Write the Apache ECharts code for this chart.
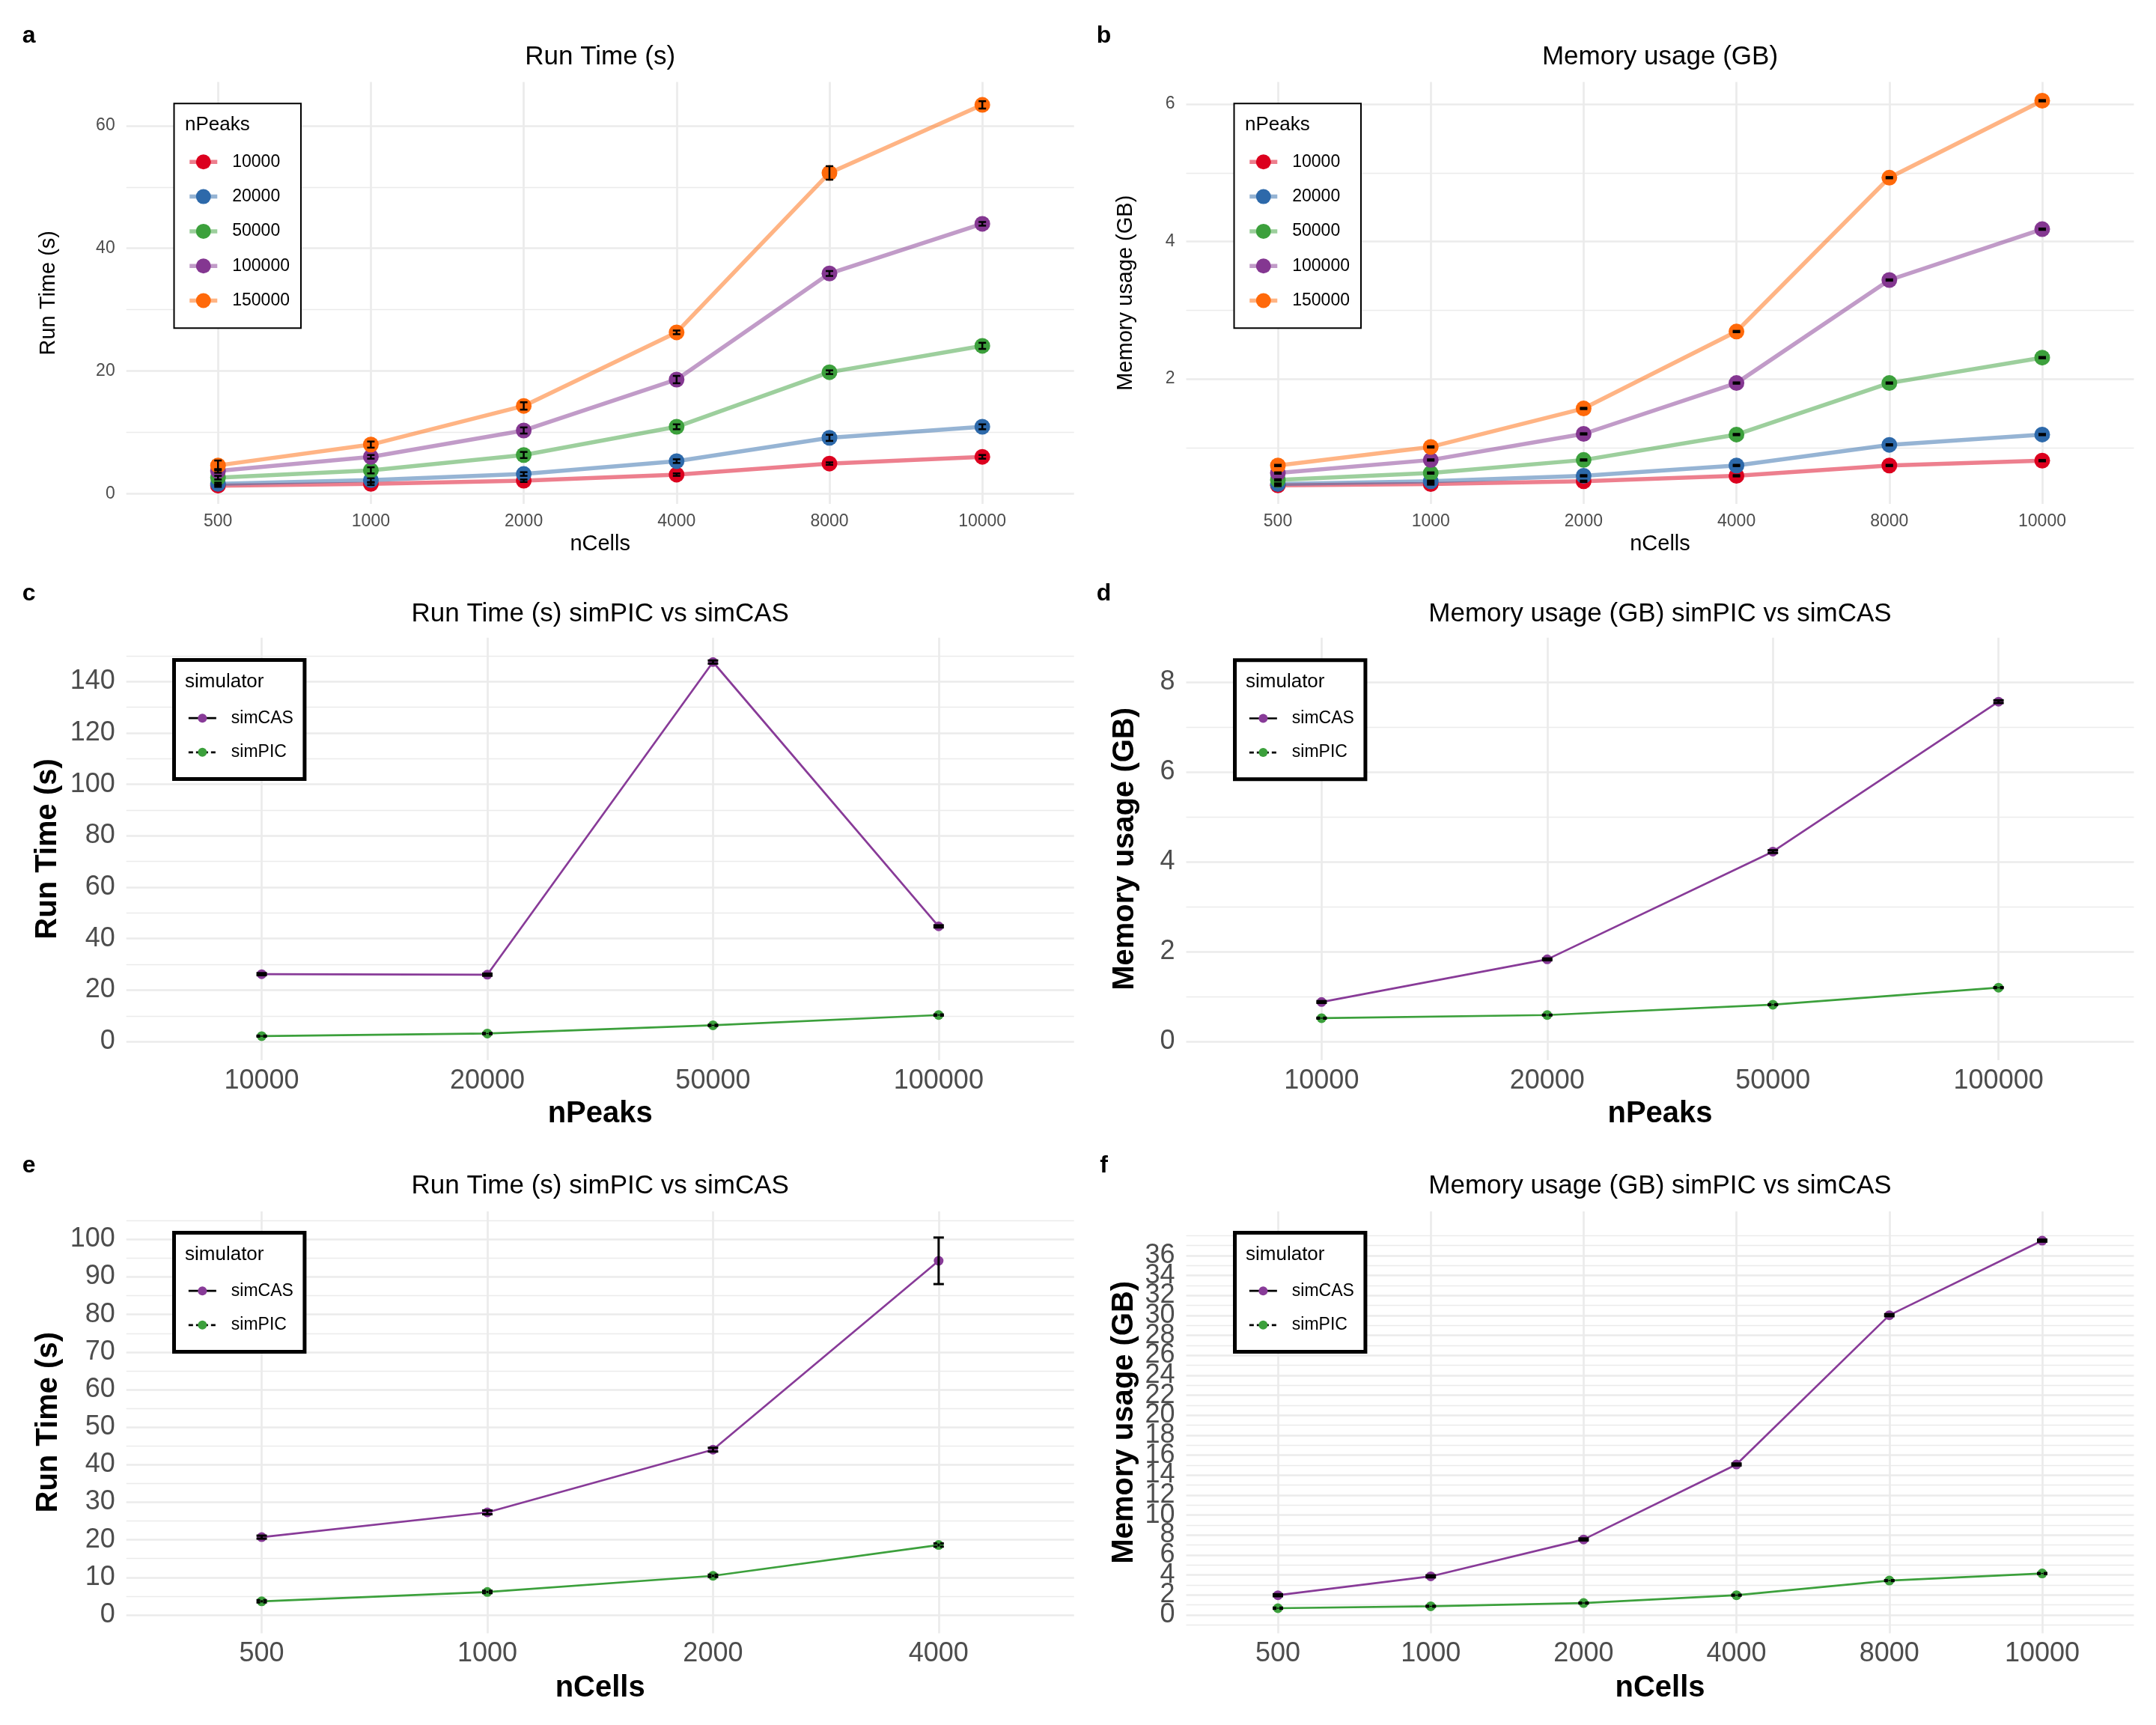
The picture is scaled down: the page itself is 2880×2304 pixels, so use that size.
<!DOCTYPE html>
<html>
<head>
<meta charset="utf-8">
<script src="https://cdn.jsdelivr.net/npm/echarts@6/dist/echarts.min.js"></script>
<style>html,body{margin:0;padding:0;background:#fff}#chart{width:2880px;height:2304px}</style>
</head>
<body>
<div id="chart"></div>
<script>
// ---------------- DATA ----------------
const nCellsA = ['500', '1000', '2000', '4000', '8000', '10000'];
const nCellsE = ['500', '1000', '2000', '4000'];
const nPeaksC = ['10000', '20000', '50000', '100000'];
const nPeaksLevels = ['10000', '20000', '50000', '100000', '150000'];
const simulators = ['simCAS', 'simPIC'];

// panel a: run time (s) by nCells, one series per nPeaks
const runP10k  = [1.3, 1.6, 2.1, 3.1, 4.9, 6.0];
const runP20k  = [1.6, 2.2, 3.2, 5.3, 9.1, 10.9];
const runP50k  = [2.6, 3.8, 6.3, 10.9, 19.8, 24.1];
const runP100k = [3.7, 6.0, 10.3, 18.6, 35.9, 44.0];
const runP150k = [4.6, 8.0, 14.3, 26.3, 52.3, 63.4];
const runP10kSd  = [0.2, 0.2, 0.2, 0.2, 0.2, 0.3];
const runP20kSd  = [0.2, 0.3, 0.3, 0.3, 0.5, 0.4];
const runP50kSd  = [0.3, 0.5, 0.5, 0.4, 0.3, 0.5];
const runP100kSd = [0.3, 0.3, 0.5, 0.6, 0.4, 0.3];
const runP150kSd = [0.8, 0.5, 0.6, 0.3, 1.1, 0.6];

// panel b: memory (GB) by nCells, one series per nPeaks
const memP10k  = [0.45, 0.47, 0.51, 0.59, 0.74, 0.81];
const memP20k  = [0.47, 0.51, 0.59, 0.74, 1.04, 1.19];
const memP50k  = [0.53, 0.63, 0.82, 1.19, 1.94, 2.31];
const memP100k = [0.63, 0.82, 1.20, 1.94, 3.44, 4.18];
const memP150k = [0.74, 1.01, 1.57, 2.69, 4.93, 6.05];
const memSdTiny = [0.01, 0.01, 0.01, 0.01, 0.01, 0.01];

// panel c: run time by nPeaks
const runCasPeaks = [26.2, 26.0, 147.6, 44.8];
const runPicPeaks = [2.1, 3.1, 6.3, 10.3];
const runCasPeaksSd = [0.4, 0.4, 0.6, 0.4];
const runPicPeaksSd = [0.2, 0.2, 0.2, 0.2];

// panel d: memory by nPeaks
const memCasPeaks = [0.88, 1.83, 4.23, 7.57];
const memPicPeaks = [0.52, 0.59, 0.82, 1.20];
const memCasPeaksSd = [0.02, 0.02, 0.03, 0.03];
const memPicPeaksSd = [0.01, 0.01, 0.01, 0.01];

// panel e: run time by nCells
const runCasCells = [20.7, 27.3, 44.0, 94.3];
const runPicCells = [3.6, 6.1, 10.4, 18.6];
const runCasCellsSd = [0.4, 0.5, 0.5, 6.2];
const runPicCellsSd = [0.3, 0.3, 0.3, 0.4];

// panel f: memory by nCells
const memCasCells = [1.97, 3.86, 7.56, 15.07, 30.03, 37.5];
const memPicCells = [0.67, 0.86, 1.19, 1.97, 3.44, 4.15];
const memCasCellsSd = [0.1, 0.1, 0.1, 0.1, 0.1, 0.1];
const memPicCellsSd = [0.05, 0.05, 0.05, 0.05, 0.05, 0.05];

// tick values
const ticksA = [0, 20, 40, 60];          const minorA = [10, 30, 50];
const ticksB = [2, 4, 6];                const minorB = [1, 3, 5];
const ticksC = [0, 20, 40, 60, 80, 100, 120, 140]; const minorC = [10, 30, 50, 70, 90, 110, 130, 150];
const ticksD = [0, 2, 4, 6, 8];          const minorD = [1, 3, 5, 7];
const ticksE = [0, 10, 20, 30, 40, 50, 60, 70, 80, 90, 100];
const minorE = [5, 15, 25, 35, 45, 55, 65, 75, 85, 95, 105];
const ticksF = [0, 2, 4, 6, 8, 10, 12, 14, 16, 18, 20, 22, 24, 26, 28, 30, 32, 34, 36];
const minorF = [-1, 1, 3, 5, 7, 9, 11, 13, 15, 17, 19, 21, 23, 25, 27, 29, 31, 33, 35, 37, 38];

// ---------------- STYLE ----------------
const FONT = "'Liberation Sans', Arial, Helvetica, sans-serif";
const levelColors = ['#DC001E', '#2D69AA', '#3CA03C', '#843791', '#FF690A'];
const simColors = ['#883B98', '#3CA03C'];
const GRID_COL = '#EBEBEB';
const TICK_COL = '#4D4D4D';

function rgba(hex, a) {
  const n = parseInt(hex.slice(1), 16);
  return 'rgba(' + ((n >> 16) & 255) + ',' + ((n >> 8) & 255) + ',' + (n & 255) + ',' + a + ')';
}
function pts(vals) { return vals.map((v, k) => [k + 1, v]); }
function errs(vals, sds) { return vals.map((v, k) => [k + 1, v - sds[k], v + sds[k]]); }

const COL_L = 168.7, COL_R = 1584.5, PW = 1266;
const ROW_T = [109.5, 851.8, 1618], PH = [563.5, 564.2, 563.5];

const panels = [
  { cats: nCellsA, ymin: -1.67, ymax: 67.13, majors: ticksA, minors: minorA, xName: 'nCells', yName: 'Run Time (s)',
    col: 0, row: 0, big: false, yGap: 89.3, xGap: 39.6, title: 'Run Time (s)', letter: 'a' },
  { cats: nCellsA, ymin: 0.181, ymax: 6.323, majors: ticksB, minors: minorB, xName: 'nCells', yName: 'Memory usage (GB)',
    col: 1, row: 0, big: false, yGap: 66.5, xGap: 39.6, title: 'Memory usage (GB)', letter: 'b' },
  { cats: nPeaksC, ymin: -7.25, ymax: 157.05, majors: ticksC, minors: minorC, xName: 'nPeaks', yName: 'Run Time (s)',
    col: 0, row: 1, big: true, yGap: 84.3, xGap: 52, title: 'Run Time (s) simPIC vs simCAS', letter: 'c' },
  { cats: nPeaksC, ymin: -0.415, ymax: 8.993, majors: ticksD, minors: minorD, xName: 'nPeaks', yName: 'Memory usage (GB)',
    col: 1, row: 1, big: true, yGap: 61.7, xGap: 52, title: 'Memory usage (GB) simPIC vs simCAS', letter: 'd' },
  { cats: nCellsE, ymin: -4.905, ymax: 107.46, majors: ticksE, minors: minorE, xName: 'nCells', yName: 'Run Time (s)',
    col: 0, row: 2, big: true, yGap: 84, xGap: 53, title: 'Run Time (s) simPIC vs simCAS', letter: 'e' },
  { cats: nCellsA, ymin: -1.845, ymax: 40.43, majors: ticksF, minors: minorF, xName: 'nCells', yName: 'Memory usage (GB)',
    col: 1, row: 2, big: true, yGap: 62.4, xGap: 53, title: 'Memory usage (GB) simPIC vs simCAS', letter: 'f' }
];

const grids = [], xAxes = [], yAxes = [], series = [], legends = [], graphics = [];

panels.forEach((p, gi) => {
  const left = p.col ? COL_R : COL_L;
  const top = ROW_T[p.row];
  grids.push({ left: left, top: top, width: PW, height: PH[p.row] });
  const idx = p.cats.map((c, k) => k + 1);
  const tickFs = p.big ? 36 : 23;
  const nameStyle = p.big
    ? { fontSize: 40, fontWeight: 'bold', color: '#000', fontFamily: FONT }
    : { fontSize: 29, fontWeight: 'normal', color: '#000', fontFamily: FONT };
  // y tick labels split over two axes so that crowded labels never get auto-hidden
  const labA = p.majors.filter((v, k) => k % 2 === 0);
  const labB = p.majors.filter((v, k) => k % 2 === 1);
  const labStyle = { showMinLabel: true, showMaxLabel: true, hideOverlap: false,
    color: TICK_COL, fontSize: tickFs, fontFamily: FONT, margin: 15 };
  xAxes.push({
    type: 'value', gridIndex: gi, min: 0.4, max: p.cats.length + 0.6,
    axisLine: { show: false }, axisTick: { show: false, customValues: idx },
    axisLabel: { customValues: idx, formatter: (v) => p.cats[Math.round(v) - 1],
      showMinLabel: true, showMaxLabel: true,
      color: TICK_COL, fontSize: tickFs, fontFamily: FONT, margin: p.big ? 10 : 12 },
    splitLine: { show: true, lineStyle: { color: GRID_COL, width: 2.7 } },
    name: p.xName, nameLocation: 'middle', nameGap: p.xGap, nameTextStyle: nameStyle
  });
  yAxes.push({
    type: 'value', gridIndex: gi, min: p.ymin, max: p.ymax, position: 'left',
    axisLine: { show: false }, axisTick: { show: false, customValues: p.majors },
    axisLabel: Object.assign({ customValues: labA }, labStyle),
    splitLine: { show: true, lineStyle: { color: GRID_COL, width: 2.7 } },
    name: p.yName, nameLocation: 'middle', nameGap: p.yGap, nameTextStyle: nameStyle
  });
  yAxes.push({
    type: 'value', gridIndex: gi, min: p.ymin, max: p.ymax, position: 'left', offset: 0,
    axisLine: { show: false }, axisTick: { show: false, customValues: p.minors },
    axisLabel: Object.assign({ show: labB.length > 0, customValues: labB.length ? labB : [p.majors[0]] }, labStyle),
    splitLine: { show: true, lineStyle: { color: GRID_COL, width: 1.4 } }
  });
  graphics.push({
    type: 'text', z: 100,
    style: { text: p.title, x: left + PW / 2, y: [76.6, 819.9, 1584.3][p.row], textAlign: 'center', textVerticalAlign: 'middle',
      font: '35px ' + FONT, fill: '#000' }
  });
  graphics.push({
    type: 'text', z: 100,
    style: { text: p.letter, x: p.col ? 1474.5 : 38.6, y: [48.5, 793, 1557][p.row], textAlign: 'center', textVerticalAlign: 'middle',
      font: 'bold 32px ' + FONT, fill: '#000' }
  });
});

// ---- panels a & b: five nPeaks series ----
function addLevelPanel(gi, valsList, sdList) {
  valsList.forEach((vals, i) => {
    series.push({
      type: 'line', name: nPeaksLevels[i], xAxisIndex: gi, yAxisIndex: 2 * gi,
      data: pts(vals), symbol: 'circle', showSymbol: false, silent: true, z: 2,
      lineStyle: { color: rgba(levelColors[i], 0.5), width: 5.5 },
      itemStyle: { color: levelColors[i] }
    });
  });
  valsList.forEach((vals, i) => {
    series.push({
      type: 'scatter', name: 'pts_' + gi + '_' + i, xAxisIndex: gi, yAxisIndex: 2 * gi,
      data: pts(vals), symbol: 'circle', symbolSize: 21, silent: true, z: 3,
      itemStyle: { color: levelColors[i], opacity: 1 }
    });
  });
  valsList.forEach((vals, i) => {
    series.push(errSeries(gi, vals, sdList[i], 10, 2.5, null));
  });
}

function errSeries(gi, vals, sds, cap, lw, dash) {
  return {
    type: 'custom', name: 'err_' + gi + '_' + series.length, xAxisIndex: gi, yAxisIndex: 2 * gi,
    data: errs(vals, sds), z: 5, silent: true, encode: { x: 0, y: [1, 2] },
    renderItem: function (params, api) {
      const x = api.value(0), lo = api.value(1), hi = api.value(2);
      const t = api.coord([x, hi]), b = api.coord([x, lo]);
      const h = cap / 2;
      const st = { stroke: '#000', lineWidth: lw, lineDash: dash };
      return {
        type: 'group', children: [
          { type: 'line', shape: { x1: t[0], y1: t[1], x2: b[0], y2: b[1] }, style: st },
          { type: 'line', shape: { x1: t[0] - h, y1: t[1], x2: t[0] + h, y2: t[1] }, style: st },
          { type: 'line', shape: { x1: b[0] - h, y1: b[1], x2: b[0] + h, y2: b[1] }, style: st }
        ]
      };
    }
  };
}

function addSimPanel(gi, cas, casSd, pic, picSd) {
  [cas, pic].forEach((vals, i) => {
    series.push({
      type: 'line', name: simulators[i], xAxisIndex: gi, yAxisIndex: 2 * gi,
      data: pts(vals), symbol: 'circle', symbolSize: 13, showSymbol: true, silent: true, z: 2,
      lineStyle: { color: simColors[i], width: 2.7 },
      itemStyle: { color: simColors[i] }
    });
  });
  series.push(errSeries(gi, cas, casSd, 14, 3, null));
  series.push(errSeries(gi, pic, picSd, 14, 3, [5, 4]));
}

addLevelPanel(0, [runP10k, runP20k, runP50k, runP100k, runP150k],
  [runP10kSd, runP20kSd, runP50kSd, runP100kSd, runP150kSd]);
addLevelPanel(1, [memP10k, memP20k, memP50k, memP100k, memP150k],
  [memSdTiny, memSdTiny, memSdTiny, memSdTiny, memSdTiny]);
addSimPanel(2, runCasPeaks, runCasPeaksSd, runPicPeaks, runPicPeaksSd);
addSimPanel(3, memCasPeaks, memCasPeaksSd, memPicPeaks, memPicPeaksSd);
addSimPanel(4, runCasCells, runCasCellsSd, runPicCells, runPicCellsSd);
addSimPanel(5, memCasCells, memCasCellsSd, memPicCells, memPicCellsSd);

// ---- legends ----
function levelLegend(L, T) {
  legends.push({
    orient: 'vertical', left: L, top: T, padding: [65.5, 15, 24.2, 18],
    itemGap: 21.3, itemWidth: 37, itemHeight: 25, selectedMode: false,
    borderColor: '#000', borderWidth: 2, backgroundColor: '#fff',
    textStyle: { fontSize: 23, color: '#000', fontFamily: FONT, padding: [0, 0, 0, 15], lineHeight: 25 },
    data: nPeaksLevels.map((n, i) => ({
      name: n, itemStyle: { color: levelColors[i] },
      lineStyle: { color: rgba(levelColors[i], 0.5), width: 5.5 }
    }))
  });
  graphics.push({ type: 'text', z: 100, style: { text: 'nPeaks', x: L + 14.5, y: T + 29, textVerticalAlign: 'middle',
    font: '26px ' + FONT, fill: '#000' } });
}
function simLegend(L, T) {
  legends.push({
    orient: 'vertical', left: L, top: T, padding: [66.2, 15, 24.2, 18],
    itemGap: 22.6, itemWidth: 37, itemHeight: 15, selectedMode: false,
    borderColor: '#000', borderWidth: 5, backgroundColor: '#fff',
    textStyle: { fontSize: 23, color: '#000', fontFamily: FONT, padding: [0, 0, 0, 15], lineHeight: 15 },
    data: [
      { name: 'simCAS', itemStyle: { color: simColors[0] }, lineStyle: { color: '#000', width: 2.7 } },
      { name: 'simPIC', itemStyle: { color: simColors[1] }, lineStyle: { color: '#000', width: 2.7, type: [6, 4] } }
    ]
  });
  graphics.push({ type: 'text', z: 100, style: { text: 'simulator', x: L + 14.5, y: T + 29.5, textVerticalAlign: 'middle',
    font: '26px ' + FONT, fill: '#000' } });
}
levelLegend(232.5, 138.3);
levelLegend(1648.5, 138.3);
simLegend(232.5, 881.5);
simLegend(1649.5, 881.8);
simLegend(232.5, 1646.5);
simLegend(1649.5, 1646.5);

const chart = echarts.init(document.getElementById('chart'), null, { renderer: 'canvas', width: 2880, height: 2304 });
chart.setOption({
  backgroundColor: '#fff',
  animation: false,
  textStyle: { fontFamily: FONT },
  grid: grids,
  xAxis: xAxes,
  yAxis: yAxes,
  legend: legends,
  series: series,
  graphic: { elements: graphics }
});
</script>
</body>
</html>
